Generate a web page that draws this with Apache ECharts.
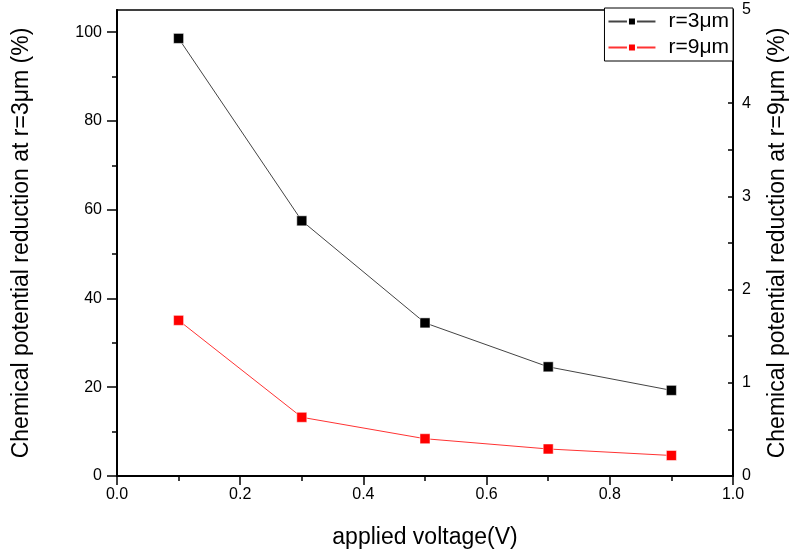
<!DOCTYPE html>
<html>
<head>
<meta charset="utf-8">
<script src="https://cdn.jsdelivr.net/npm/echarts@6/dist/echarts.min.js"></script>
<style>
html,body{margin:0;padding:0;background:#fff;}
#chart{width:792px;height:550px;}
</style>
</head>
<body>
<div id="chart"></div>
<script>
// ---- data ----
var voltages = [0.1, 0.3, 0.5, 0.7, 0.9];
var reductionR3 = [98.6, 57.5, 34.5, 24.6, 19.3];   // left axis (%)
var reductionR9 = [1.67, 0.63, 0.40, 0.29, 0.22];   // right axis (%)
var seriesNames = ['r=3\u03bcm', 'r=9\u03bcm'];
var leftMajorTicks = [0, 20, 40, 60, 80, 100];
var leftMinorTicks = [10, 30, 50, 70, 90];

var FONT = 'Liberation Sans, Arial, sans-serif';
function pairs(xs, ys){ return xs.map(function(x,i){ return [x, ys[i]]; }); }

var chart = echarts.init(document.getElementById('chart'), null, {renderer:'canvas'});
chart.setOption({
  animation: false,
  backgroundColor: '#fff',
  grid: {left: 117, right: 59, top: 10, bottom: 74, show: true, borderColor: '#000', borderWidth: 1.5,
         containLabel: false, outerBoundsMode: 'none'},
  legend: {
    right: 59, top: 8, orient: 'vertical',
    backgroundColor: '#fff', borderColor: '#000', borderWidth: 1,
    padding: [3, 4, 3, 3], itemGap: 5, itemWidth: 47, itemHeight: 10,
    textStyle: {fontFamily: FONT, fontSize: 21, color: '#000', padding: [0, 0, 0, 8]},
    data: seriesNames
  },
  xAxis: {
    type: 'value', min: 0, max: 1, interval: 0.2,
    name: 'applied voltage(V)', nameLocation: 'middle', nameGap: 50,
    nameTextStyle: {fontFamily: FONT, fontSize: 23, color: '#000'},
    axisLine: {show: true, onZero: false, lineStyle: {color: '#000', width: 2}},
    axisTick: {show: true, length: 9, lineStyle: {color: '#000', width: 1.5}},
    minorTick: {show: true, splitNumber: 2, length: 5, lineStyle: {color: '#000', width: 1.5}},
    axisLabel: {fontFamily: FONT, fontSize: 16, color: '#000', margin: 11, formatter: function(v){ return v.toFixed(1); }},
    splitLine: {show: false}
  },
  yAxis: [
    {
      type: 'value', position: 'left', min: 0, max: 105,
      name: 'Chemical potential reduction at r=3\u03bcm (%)', nameLocation: 'middle', nameGap: 84,
      nameTextStyle: {fontFamily: FONT, fontSize: 23, color: '#000'},
      axisLine: {show: true, onZero: false, lineStyle: {color: '#000', width: 2}},
      axisTick: {show: true, length: 10, customValues: leftMajorTicks, lineStyle: {color: '#000', width: 1.5}},
      axisLabel: {fontFamily: FONT, fontSize: 16, color: '#000', margin: 15, customValues: leftMajorTicks},
      splitLine: {show: false}
    },
    {
      type: 'value', position: 'right', min: 0, max: 5, interval: 1,
      name: 'Chemical potential reduction at r=9\u03bcm (%)', nameLocation: 'middle', nameGap: 33,
      nameTextStyle: {fontFamily: FONT, fontSize: 23, color: '#000'},
      axisLine: {show: true, onZero: false, lineStyle: {color: '#000', width: 2}},
      axisTick: {show: true, inside: true, length: 5, lineStyle: {color: '#000', width: 1.5}},
      minorTick: {show: true, splitNumber: 2, length: 5, lineStyle: {color: '#000', width: 1.5}},
      axisLabel: {fontFamily: FONT, fontSize: 16, color: '#000', margin: 9},
      splitLine: {show: false}
    },
    {
      type: 'value', position: 'left', min: 0, max: 105,
      axisLine: {show: false},
      axisTick: {show: true, length: 5, customValues: leftMinorTicks, lineStyle: {color: '#000', width: 1.5}},
      axisLabel: {show: false},
      splitLine: {show: false}
    }
  ],
  series: [
    {
      name: seriesNames[0], type: 'line', yAxisIndex: 0,
      data: pairs(voltages, reductionR3),
      symbol: 'rect', symbolSize: 10,
      lineStyle: {color: '#444', width: 1},
      itemStyle: {color: '#000', borderColor: '#fff', borderWidth: 0.5}
    },
    {
      name: seriesNames[1], type: 'line', yAxisIndex: 1,
      data: pairs(voltages, reductionR9),
      symbol: 'rect', symbolSize: 10,
      lineStyle: {color: '#ff3333', width: 1},
      itemStyle: {color: '#ff0000', borderColor: '#fff', borderWidth: 0.5}
    }
  ]
});
</script>
</body>
</html>
